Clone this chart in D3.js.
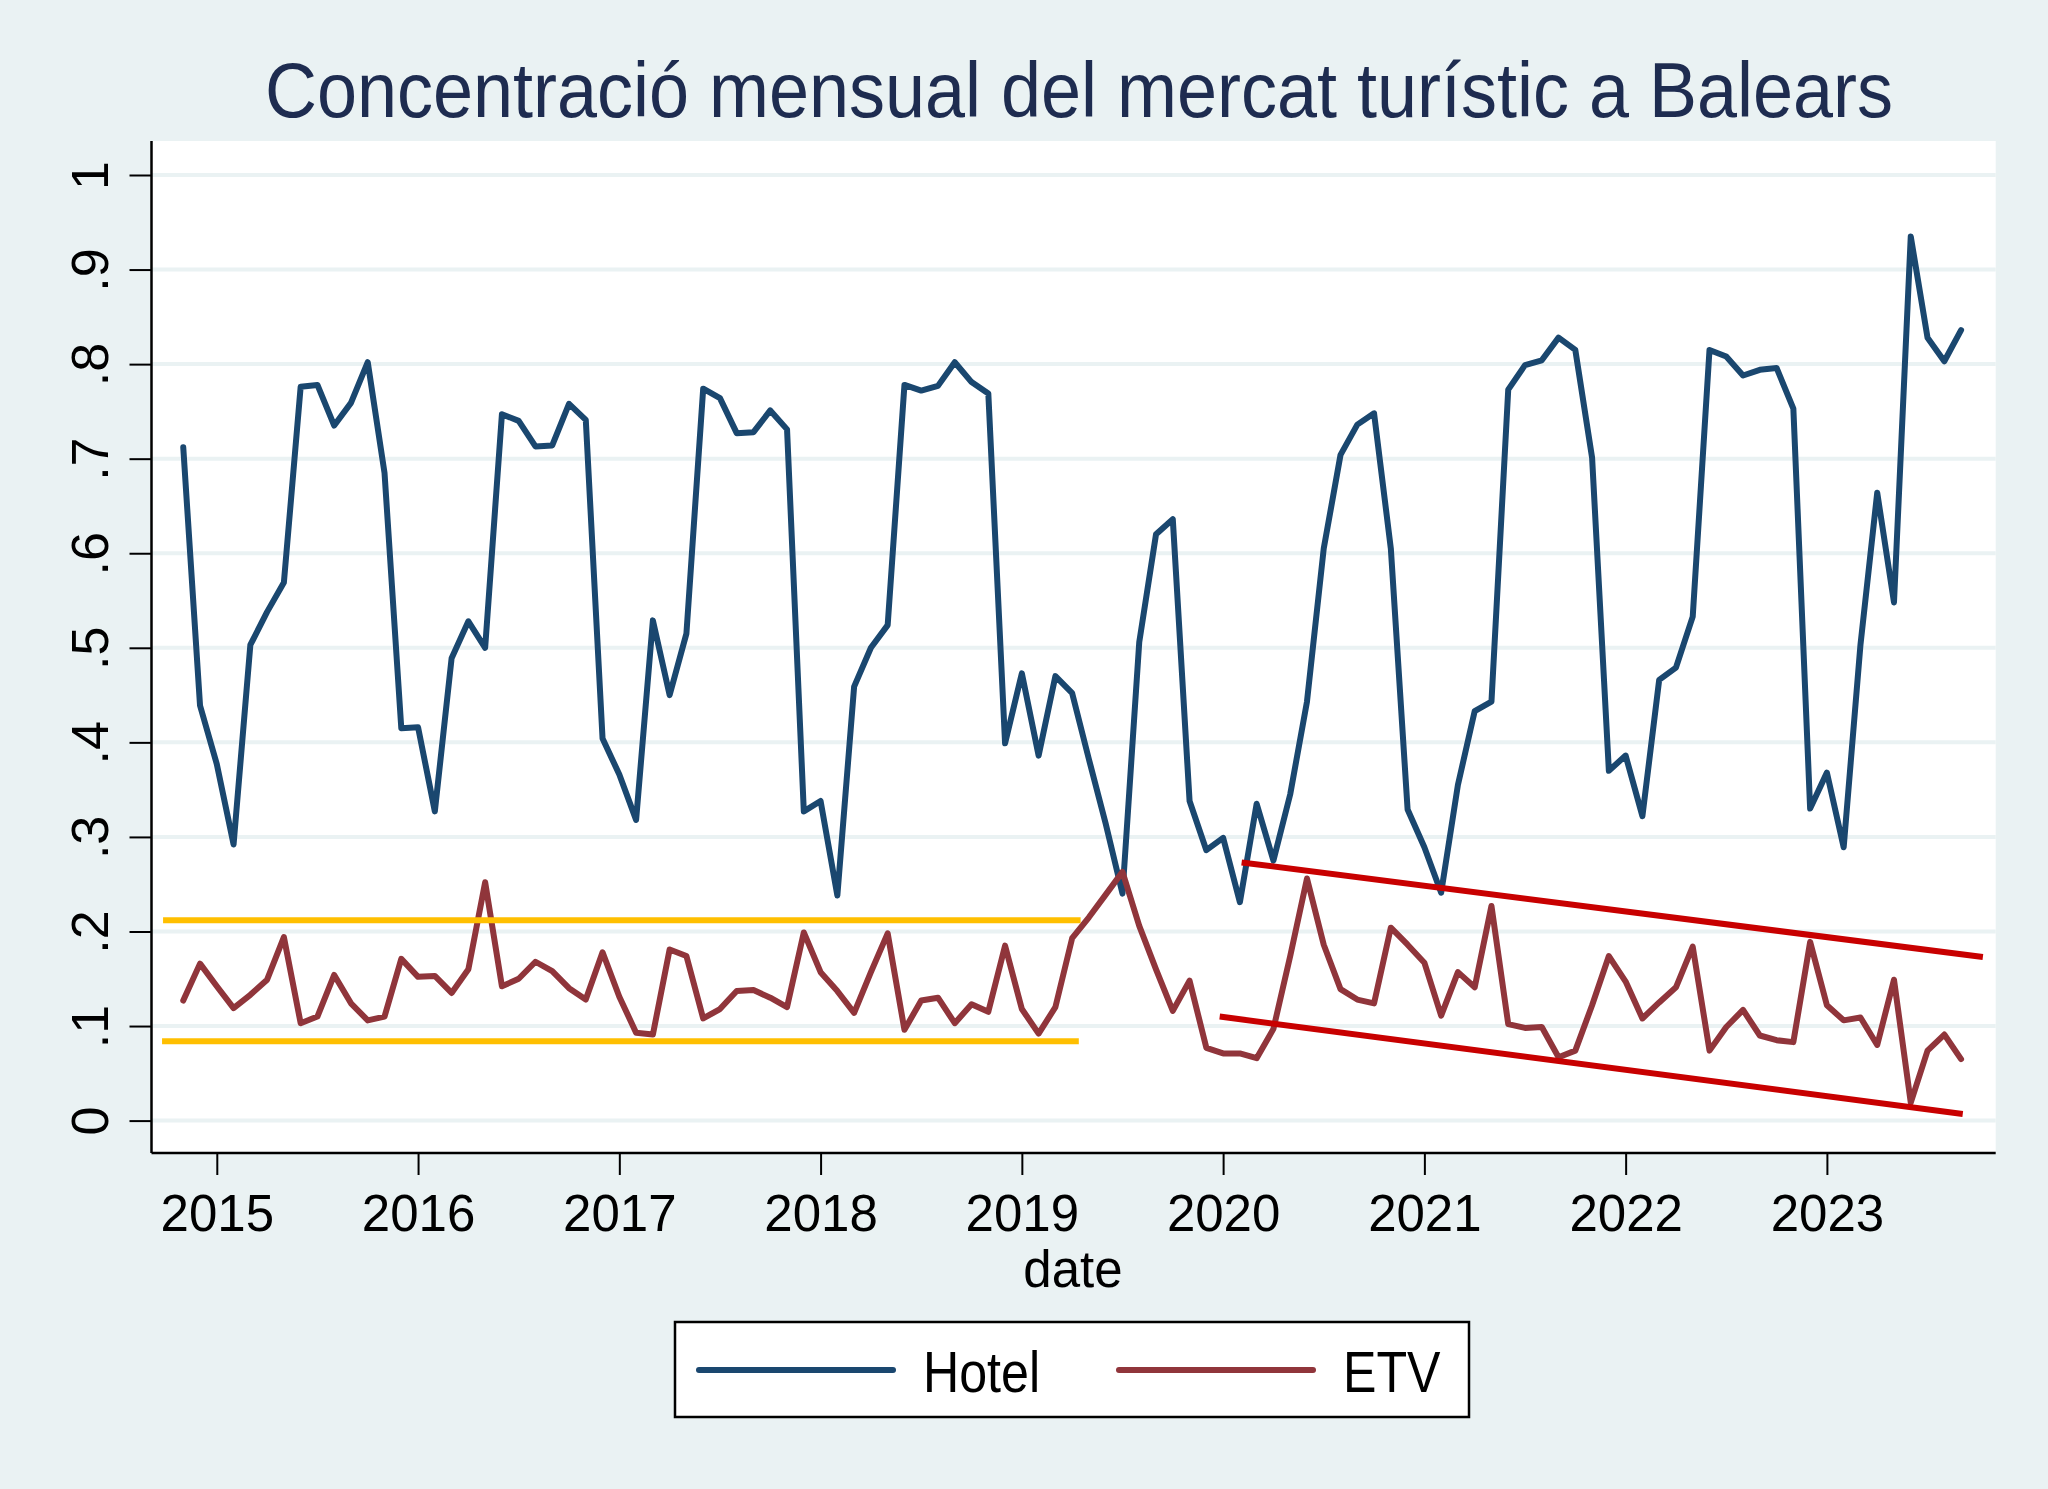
<!DOCTYPE html>
<html>
<head>
<meta charset="utf-8">
<script src="https://cdn.jsdelivr.net/npm/d3@7"></script>
<style>
  body { margin: 0; background: #eaf2f3; }
  svg { display: block; font-family: "Liberation Sans", Arial, sans-serif; }
</style>
</head>
<body>
<div id="chart"></div>
<script>
var width = 2048,
    height = 1489;

var title = "Concentració mensual del mercat turístic a Balears";

// monthly series, first observation is 2014m11
var firstYear = 2014, firstMonth = 11;

var hotel = [0.712, 0.439,
  0.377, 0.292, 0.503, 0.538, 0.569, 0.776, 0.778, 0.735, 0.759, 0.802, 0.685, 0.415,
  0.416, 0.327, 0.489, 0.528, 0.500, 0.747, 0.740, 0.713, 0.714, 0.758, 0.741, 0.404,
  0.366, 0.318, 0.529, 0.450, 0.515, 0.774, 0.764, 0.727, 0.728, 0.751, 0.731, 0.327,
  0.338, 0.238, 0.459, 0.500, 0.524, 0.778, 0.772, 0.777, 0.802, 0.781, 0.769, 0.399,
  0.473, 0.386, 0.470, 0.452, 0.382, 0.314, 0.240, 0.506, 0.620, 0.636, 0.338, 0.286,
  0.299, 0.231, 0.335, 0.275, 0.345, 0.443, 0.605, 0.704, 0.736, 0.748, 0.605, 0.329,
  0.289, 0.241, 0.355, 0.433, 0.443, 0.773, 0.799, 0.804, 0.828, 0.815, 0.701, 0.370,
  0.386, 0.322, 0.466, 0.479, 0.533, 0.815, 0.808, 0.788, 0.794, 0.796, 0.753, 0.330,
  0.368, 0.289, 0.503, 0.664, 0.548, 0.935, 0.828, 0.803, 0.836];

var etv = [0.127, 0.166,
  0.142, 0.119, 0.133, 0.149, 0.194, 0.103, 0.110, 0.154, 0.124, 0.106, 0.110, 0.171,
  0.152, 0.153, 0.135, 0.160, 0.252, 0.142, 0.150, 0.168, 0.158, 0.140, 0.128, 0.178,
  0.131, 0.093, 0.091, 0.181, 0.174, 0.108, 0.118, 0.137, 0.138, 0.130, 0.120, 0.199,
  0.157, 0.137, 0.114, 0.157, 0.198, 0.096, 0.127, 0.130, 0.103, 0.123, 0.115, 0.185,
  0.118, 0.092, 0.120, 0.193, 0.215, 0.239, 0.263, 0.206, 0.160, 0.116, 0.148, 0.077,
  0.071, 0.071, 0.066, 0.097, 0.174, 0.256, 0.186, 0.139, 0.128, 0.124, 0.204, 0.186,
  0.167, 0.111, 0.157, 0.141, 0.227, 0.102, 0.098, 0.099, 0.067, 0.074, 0.122, 0.174,
  0.147, 0.108, 0.125, 0.141, 0.184, 0.074, 0.099, 0.117, 0.090, 0.085, 0.083, 0.189,
  0.122, 0.106, 0.109, 0.080, 0.149, 0.019, 0.074, 0.091, 0.065];

var yTicks = [0, .1, .2, .3, .4, .5, .6, .7, .8, .9, 1];
var yTickLabels = ["0", ".1", ".2", ".3", ".4", ".5", ".6", ".7", ".8", ".9", "1"];
var yearTicks = [2015, 2016, 2017, 2018, 2019, 2020, 2021, 2022, 2023];

var seriesNames = ["Hotel", "ETV"];
var seriesColors = ["#1a476f", "#90353b"];

// hand drawn marks over the chart: [x1 (year), y1, x2 (year), y2]
var goldLines = [[2014.733, 0.212, 2019.292, 0.212],
                 [2014.728, 0.084, 2019.283, 0.084]];
var redLines  = [[2020.092, 0.273, 2023.775, 0.173],
                 [2019.983, 0.110, 2023.675, 0.007]];

var plot = {left: 151.5, right: 1995.7, top: 141, bottom: 1153};

var svg = d3.select("#chart").append("svg")
    .attr("width", width)
    .attr("height", height);

svg.append("rect")
    .attr("width", width).attr("height", height)
    .attr("fill", "#eaf2f3");

var x = d3.scaleLinear().domain([2015, 2023]).range([216.8, 1826.9]);
var y = d3.scaleLinear().domain([0, 1]).range([1120.6, 175]);

var dates = hotel.map(function(d, i) { return firstYear + (firstMonth - 1 + i) / 12; });

// plot region
svg.append("rect")
    .attr("x", plot.left).attr("y", plot.top)
    .attr("width", plot.right - plot.left)
    .attr("height", plot.bottom - plot.top)
    .attr("fill", "#fff");

// grid
svg.append("g").selectAll("line")
    .data(yTicks)
    .enter().append("line")
    .attr("x1", plot.left).attr("x2", plot.right)
    .attr("y1", function(d) { return y(d); })
    .attr("y2", function(d) { return y(d); })
    .attr("stroke", "#eaf2f3")
    .attr("stroke-width", 4);

// y axis
var yAxis = svg.append("g")
    .attr("transform", `translate(${plot.left},0)`)
    .call(d3.axisLeft(y).tickValues(yTicks)
          .tickFormat(function(d, i) { return yTickLabels[i]; })
          .tickSize(22).tickPadding(0));
yAxis.select(".domain").remove();
yAxis.selectAll(".tick line").attr("stroke", "#000").attr("stroke-width", 2);
yAxis.selectAll(".tick text")
    .attr("x", null).attr("dy", null)
    .attr("transform", "translate(-44,0) rotate(-90)")
    .attr("text-anchor", "middle")
    .attr("font-size", 52)
    .attr("fill", "#000");

// x axis
var xAxis = svg.append("g")
    .attr("transform", `translate(0,${plot.bottom})`)
    .call(d3.axisBottom(x).tickValues(yearTicks)
          .tickFormat(d3.format("d"))
          .tickSize(22).tickPadding(0));
xAxis.select(".domain").remove();
xAxis.selectAll(".tick line").attr("stroke", "#000").attr("stroke-width", 2);
xAxis.selectAll(".tick text")
    .attr("y", 78).attr("dy", null)
    .attr("font-size", 51)
    .attr("fill", "#000");

// axis lines
svg.append("line")
    .attr("x1", plot.left).attr("x2", plot.left)
    .attr("y1", plot.top).attr("y2", plot.bottom)
    .attr("stroke", "#000").attr("stroke-width", 2.5);
svg.append("line")
    .attr("x1", plot.left).attr("x2", plot.right)
    .attr("y1", plot.bottom).attr("y2", plot.bottom)
    .attr("stroke", "#000").attr("stroke-width", 2.5);

svg.append("text")
    .attr("x", 1073).attr("y", 1287)
    .attr("text-anchor", "middle")
    .attr("font-size", 51)
    .text("date");

// series
var line = d3.line()
    .x(function(d) { return x(d[0]); })
    .y(function(d) { return y(d[1]); });

[hotel, etv].forEach(function(s, k) {
    svg.append("path")
        .datum(s.map(function(v, i) { return [dates[i], v]; }))
        .attr("d", line)
        .attr("fill", "none")
        .attr("stroke", seriesColors[k])
        .attr("stroke-width", 6)
        .attr("stroke-linejoin", "round")
        .attr("stroke-linecap", "round");
});

// overlays
function drawSegs(segs, color) {
    svg.append("g").selectAll("line")
        .data(segs)
        .enter().append("line")
        .attr("x1", function(d) { return x(d[0]); })
        .attr("y1", function(d) { return y(d[1]); })
        .attr("x2", function(d) { return x(d[2]); })
        .attr("y2", function(d) { return y(d[3]); })
        .attr("stroke", color)
        .attr("stroke-width", 6);
}
drawSegs(goldLines, "#ffbf00");
drawSegs(redLines, "#c80000");

// title
svg.append("text")
    .attr("x", 1079).attr("y", 117)
    .attr("text-anchor", "middle")
    .attr("font-size", 78)
    .attr("fill", "#1e2c50")
    .attr("textLength", 1628)
    .attr("lengthAdjust", "spacingAndGlyphs")
    .text(title);

// legend
var legend = svg.append("g");
legend.append("rect")
    .attr("x", 675).attr("y", 1322)
    .attr("width", 794).attr("height", 95)
    .attr("fill", "#fff")
    .attr("stroke", "#000").attr("stroke-width", 2.5);

var legX = [699, 1119];
seriesNames.forEach(function(name, k) {
    legend.append("line")
        .attr("x1", legX[k]).attr("x2", legX[k] + 194)
        .attr("y1", 1370).attr("y2", 1370)
        .attr("stroke", seriesColors[k])
        .attr("stroke-width", 6)
        .attr("stroke-linecap", "round");
    var t = legend.append("text")
        .attr("x", legX[k] + 224).attr("y", 1392)
        .attr("font-size", 57)
        .text(name);
    // the labels are drawn a bit condensed in the original
    var w = t.node().getComputedTextLength();
    t.attr("textLength", w * 0.88).attr("lengthAdjust", "spacingAndGlyphs");
});
</script>
</body>
</html>
